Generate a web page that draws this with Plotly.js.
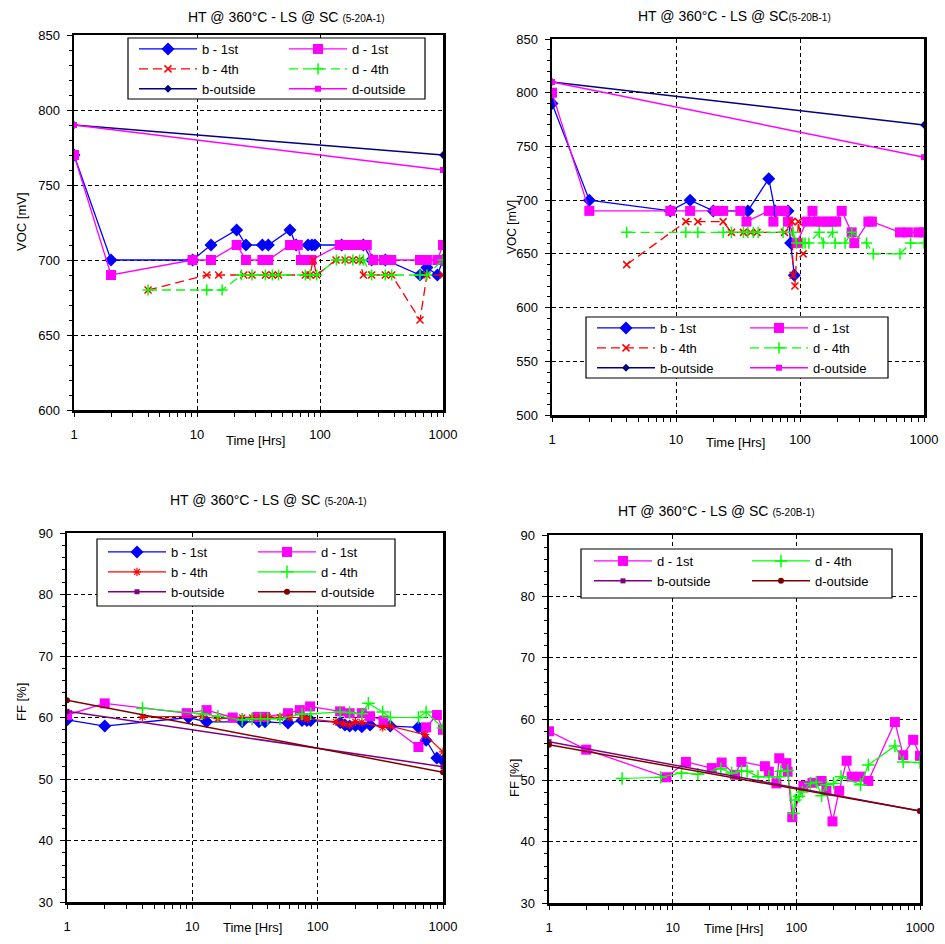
<!DOCTYPE html>
<html><head><meta charset="utf-8">
<script src="https://cdn.plot.ly/plotly-3.0.1.min.js"></script>
<style>html,body{margin:0;padding:0;background:#fff}#chart{width:945px;height:944px}</style>
</head><body><div id="chart"></div>
<script>
// ---- Sample 5-20A-1, open-circuit voltage VOC [mV] vs time [Hrs] ----
const tA_b1 = [1, 2, 9.2, 13, 21, 25, 34, 38, 57, 64, 80, 86, 91, 150, 225, 263, 340, 650, 740, 900, 1000];
const vocA_b1 = [770, 700, 700, 710, 720, 710, 710, 710, 720, 710, 710, 710, 710, 710, 710, 700, 700, 690, 695, 690, 700];
const tA_d1 = [1, 2, 9.2, 13, 21, 25, 34, 38, 57, 66, 70, 78, 85, 145, 165, 190, 215, 240, 270, 330, 380, 650, 740, 900, 1000];
const vocA_d1 = [770, 690, 700, 700, 710, 700, 700, 700, 710, 710, 700, 700, 700, 710, 710, 710, 710, 710, 700, 700, 700, 700, 700, 700, 710];
const tA_b4 = [4, 12, 15, 24, 28, 36, 41, 46, 76, 83, 88, 94, 135, 160, 185, 210, 225, 263, 340, 383, 650, 740, 1000];
const vocA_b4 = [680, 690, 690, 690, 690, 690, 690, 690, 690, 690, 700, 690, 700, 700, 700, 700, 690, 690, 690, 690, 660, 690, 690];
const tA_d4 = [4, 12, 16, 23, 28, 36, 41, 46, 76, 83, 94, 136, 160, 185, 210, 225, 263, 340, 383, 650, 740, 1000];
const vocA_d4 = [680, 680, 680, 690, 690, 690, 690, 690, 690, 690, 690, 700, 700, 700, 700, 700, 690, 690, 690, 690, 690, 700];
const tA_out = [1, 1000];
const vocA_bout = [790, 770];
const vocA_dout = [790, 760];

// ---- Sample 5-20B-1, VOC [mV] ----
const tB_b1 = [1, 2, 9, 13, 20, 38, 56, 63, 80, 84, 90];
const vocB_b1 = [790, 700, 690, 700, 690, 690, 720, 690, 690, 660, 630];
const tB_d1 = [1, 2, 9, 13, 21, 24, 33, 37, 56, 61, 69, 75, 80, 94, 113, 126, 135, 150, 165, 180, 196, 217, 261, 274, 356, 380, 640, 741, 900, 1000];
const vocB_d1 = [800, 690, 690, 690, 690, 690, 690, 680, 690, 680, 690, 690, 680, 660, 680, 690, 680, 680, 680, 680, 680, 690, 670, 660, 680, 680, 670, 670, 670, 670];
const tB_b4 = [4, 12, 15, 24, 28, 35, 40, 45, 75, 86, 88, 91, 97, 106];
const vocB_b4 = [640, 680, 680, 680, 670, 670, 670, 670, 670, 680, 630, 620, 680, 650];
const tB_d4 = [4, 12, 15, 24, 28, 35, 38, 42, 46, 73, 88, 94, 105, 110, 118, 143, 154, 183, 192, 231, 261, 345, 390, 640, 780, 1000];
const vocB_d4 = [670, 670, 670, 670, 670, 670, 670, 670, 670, 670, 670, 660, 660, 660, 660, 670, 660, 670, 660, 660, 670, 660, 650, 650, 660, 660];
const tB_out = [1, 1000];
const vocB_bout = [810, 770];
const vocB_dout = [810, 740];

// ---- Sample 5-20A-1, fill factor FF [%] ----
const tA_ff_b1 = [1, 2, 9.3, 13, 25, 34, 38, 58, 75, 82, 88, 151, 165, 180, 200, 225, 262, 380, 637, 733, 893, 1000];
const ffA_b1 = [59.6, 58.6, 60, 59.3, 59.3, 59.3, 59.3, 59.1, 59.5, 59.5, 59.5, 59.2, 58.8, 58.6, 58.7, 58.5, 58.8, 58.6, 58.4, 56.3, 53.4, 53];
const tA_ff_d1 = [1, 2, 9, 13, 21, 33, 38, 58, 72, 87, 151, 180, 225, 262, 335, 637, 733, 893, 1000];
const ffA_d1 = [60.4, 62.3, 60.7, 61.2, 60, 60.1, 60.1, 60.7, 61.2, 61.8, 61.0, 60.7, 60.7, 60.2, 59.5, 55.2, 58.4, 60.4, 58];
const tA_ff_b4 = [4, 12, 16, 25, 30, 35, 40, 50, 60, 75, 83, 140, 160, 180, 200, 225, 330, 380, 720, 1000];
const ffA_b4 = [60.1, 60.2, 59.8, 60, 60, 60, 60.1, 60, 60, 60, 59.8, 59.3, 59, 58.8, 59.3, 59.2, 58.4, 58.6, 57.2, 54.4];
const tA_ff_d4 = [4, 12, 16, 25, 30, 35, 40, 50, 75, 88, 151, 180, 225, 254, 330, 380, 637, 733, 1000];
const ffA_d4 = [61.5, 60.6, 60.2, 59.6, 59.8, 59.8, 59.8, 59.8, 60.6, 60.6, 60.9, 60.8, 60.6, 62.3, 60.9, 60, 60, 60.9, 58.3];
const tA_ff_out = [1, 1000];
const ffA_bout = [61, 52];
const ffA_dout = [62.8, 51.1];

// ---- Sample 5-20B-1, FF [%] ----
const tB_ff_d1 = [1, 2, 8.9, 12.8, 20.7, 24.9, 31.9, 36, 55.7, 60, 69, 72.8, 83, 85, 92.7, 114, 135, 160, 175, 196, 222, 255, 280, 330, 382, 627, 731, 881, 1000];
const ffB_d1 = [58, 55, 50.5, 53, 52, 52.9, 50.9, 53, 52.3, 51.4, 49.5, 53.6, 52.8, 51.4, 44, 49.1, 49.6, 49.9, 48.3, 43.3, 48.3, 53.2, 50.6, 50.6, 49.9, 59.5, 54.1, 56.6, 54];
const tB_ff_d4 = [3.9, 8, 11.8, 16, 24.5, 30, 36, 40, 49, 60, 73, 75, 85, 94.5, 98, 105, 112, 130, 145, 160, 175, 200, 230, 330, 382, 627, 731, 1000];
const ffB_d4 = [50.3, 50.5, 51.2, 51, 51.9, 51.2, 51.5, 51.5, 50.6, 50.6, 50.6, 51.5, 51.6, 44.6, 46.8, 47.4, 48.1, 49.5, 49.7, 47.5, 49.3, 49.5, 50.6, 49.3, 52.5, 55.6, 53, 52.9];
const tB_ff_out = [1, 1000];
const ffB_bout = [56.3, 45];
const ffB_dout = [55.8, 45];

// x-axis decades
const timeTicks = [1, 10, 100, 1000];
const timeTickText = ['1', '10', '100', '1000'];

// ---- page geometry (pixels -> paper fractions) ----
const W = 945, H = 944;
const fx = x => x / W;
const fy = y => 1 - y / H;

const FONT = 'Liberation Sans, Arial, sans-serif';

// series styles
const S = {
  b1:   {mode: 'lines+markers', line: {color: '#0000FF', width: 1.3}, marker: {symbol: 'diamond', size: 10, color: '#0000FF'}},
  d1:   {mode: 'lines+markers', line: {color: '#FF00FF', width: 1.3}, marker: {symbol: 'square', size: 10, color: '#FF00FF'}},
  b4d:  {mode: 'lines+markers', line: {color: '#FF0000', width: 1.3, dash: '9px,5px'}, marker: {symbol: 'x-thin', size: 7, color: '#FF0000', line: {color: '#FF0000', width: 1.5}}},
  d4d:  {mode: 'lines+markers', line: {color: '#00FF00', width: 1.3, dash: '9px,5px'}, marker: {symbol: 'cross-thin', size: 8, color: '#00FF00', line: {color: '#00FF00', width: 1.5}}},
  b4s:  {mode: 'lines+markers', line: {color: '#FF0000', width: 1.2}, marker: {symbol: 'asterisk-open', size: 7, color: '#FF0000', line: {color: '#FF0000', width: 1.2}}},
  d4s:  {mode: 'lines+markers', line: {color: '#00FF00', width: 1.2}, marker: {symbol: 'cross-thin', size: 9, color: '#00FF00', line: {color: '#00FF00', width: 1.5}}},
  boutV: {mode: 'lines+markers', line: {color: '#000080', width: 1.5}, marker: {symbol: 'diamond', size: 6, color: '#000080'}},
  doutV: {mode: 'lines+markers', line: {color: '#FF00FF', width: 1.5}, marker: {symbol: 'square', size: 6, color: '#FF00FF'}},
  boutF: {mode: 'lines+markers', line: {color: '#800080', width: 1.5}, marker: {symbol: 'square', size: 5, color: '#800080'}},
  doutF: {mode: 'lines+markers', line: {color: '#800000', width: 1.5}, marker: {symbol: 'circle', size: 6, color: '#800000'}}
};

// panel n, legend column c (0 = left, 1 = right)
function tr(x, y, name, style, n, c) {
  const sfx = n === 1 ? '' : String(n);
  const li = 2 * n - 1 + c;
  return Object.assign({type: 'scatter', x: x, y: y, name: name,
    xaxis: 'x' + sfx, yaxis: 'y' + sfx, legend: li === 1 ? 'legend' : 'legend' + li},
    JSON.parse(JSON.stringify(style)));
}

const data = [
  // panel 1
  tr(tA_b1, vocA_b1, 'b - 1st', S.b1, 1, 0),
  tr(tA_d1, vocA_d1, 'd - 1st', S.d1, 1, 1),
  tr(tA_b4, vocA_b4, 'b - 4th', S.b4d, 1, 0),
  tr(tA_d4, vocA_d4, 'd - 4th', S.d4d, 1, 1),
  tr(tA_out, vocA_bout, 'b-outside', S.boutV, 1, 0),
  tr(tA_out, vocA_dout, 'd-outside', S.doutV, 1, 1),
  // panel 2
  tr(tB_b1, vocB_b1, 'b - 1st', S.b1, 2, 0),
  tr(tB_d1, vocB_d1, 'd - 1st', S.d1, 2, 1),
  tr(tB_b4, vocB_b4, 'b - 4th', S.b4d, 2, 0),
  tr(tB_d4, vocB_d4, 'd - 4th', S.d4d, 2, 1),
  tr(tB_out, vocB_bout, 'b-outside', S.boutV, 2, 0),
  tr(tB_out, vocB_dout, 'd-outside', S.doutV, 2, 1),
  // panel 3
  tr(tA_ff_b1, ffA_b1, 'b - 1st', S.b1, 3, 0),
  tr(tA_ff_d1, ffA_d1, 'd - 1st', S.d1, 3, 1),
  tr(tA_ff_b4, ffA_b4, 'b - 4th', S.b4s, 3, 0),
  tr(tA_ff_d4, ffA_d4, 'd - 4th', S.d4s, 3, 1),
  tr(tA_ff_out, ffA_bout, 'b-outside', S.boutF, 3, 0),
  tr(tA_ff_out, ffA_dout, 'd-outside', S.doutF, 3, 1),
  // panel 4
  tr(tB_ff_d1, ffB_d1, 'd - 1st', S.d1, 4, 0),
  tr(tB_ff_d4, ffB_d4, 'd - 4th', S.d4s, 4, 1),
  tr(tB_ff_out, ffB_bout, 'b-outside', S.boutF, 4, 0),
  tr(tB_ff_out, ffB_dout, 'd-outside', S.doutF, 4, 1)
];

const tickFont = {family: FONT, size: 13, color: '#000'};
function xAxis(x0, x1, anchor) {
  return {type: 'log', range: [0, 3], domain: [fx(x0), fx(x1)], anchor: anchor,
    tickmode: 'array', tickvals: timeTicks, ticktext: timeTickText,
    showline: true, linecolor: '#000', linewidth: 2.5, mirror: true,
    ticks: 'outside', ticklen: 4, tickwidth: 1, tickcolor: '#000', ticklabelstandoff: 7,
    minor: {ticks: 'outside', ticklen: 4, tickwidth: 1, tickcolor: '#000', dtick: 'D1', showgrid: false},
    showgrid: true, gridcolor: '#000', gridwidth: 1, griddash: '4px,3px', zeroline: false,
    tickfont: tickFont, fixedrange: true};
}
function yAxis(y0, y1, range, dtick, mdtick, anchor) {
  return {range: range, domain: [fy(y1), fy(y0)], anchor: anchor, dtick: dtick, tick0: 0,
    showline: true, linecolor: '#000', linewidth: 2.5, mirror: true,
    ticks: 'outside', ticklen: 5, tickwidth: 1, tickcolor: '#000', ticklabelstandoff: 4,
    minor: {ticks: 'outside', ticklen: 3, tickwidth: 1, tickcolor: '#000', dtick: mdtick, showgrid: false},
    showgrid: true, gridcolor: '#000', gridwidth: 1, griddash: '4px,3px', zeroline: false,
    tickfont: tickFont, fixedrange: true};
}
// one legend column; the first row centre sits 15 px below its top edge
function legendCol(lineX, rowY) {
  return {x: fx(lineX - 5), y: fy(rowY - 15), xanchor: 'left', yanchor: 'top', orientation: 'v',
    itemwidth: 58, tracegroupgap: 0, bgcolor: 'rgba(0,0,0,0)', borderwidth: 0,
    font: {family: FONT, size: 13, color: '#000'}, itemclick: false, itemdoubleclick: false};
}
// framed white box behind each two-column legend
function legendBox(x0, y0, x1, y1) {
  return {type: 'rect', xref: 'paper', yref: 'paper', layer: 'above',
    x0: fx(x0), x1: fx(x1), y0: fy(y1), y1: fy(y0),
    fillcolor: '#fff', line: {color: '#000', width: 1.2}};
}

function note(text, x, y, size, angle) {
  return {text: text, x: fx(x), y: fy(y), xref: 'paper', yref: 'paper', showarrow: false,
    xanchor: 'center', yanchor: 'middle', textangle: angle || 0,
    font: {family: FONT, size: size, color: '#000'}};
}
const small = s => '<span style="font-size:10px">' + s + '</span>';

const layout = {
  width: W, height: H, margin: {l: 0, r: 0, t: 0, b: 0},
  paper_bgcolor: '#fff', plot_bgcolor: '#fff', showlegend: true,
  xaxis: xAxis(74, 443, 'y'),
  yaxis: yAxis(35, 410, [600, 850], 50, 10, 'x'),
  xaxis2: xAxis(552, 924, 'y2'),
  yaxis2: yAxis(39, 415, [500, 850], 50, 10, 'x2'),
  xaxis3: xAxis(67, 443, 'y3'),
  yaxis3: yAxis(533, 902, [30, 90], 10, 2, 'x3'),
  xaxis4: xAxis(549, 920, 'y4'),
  yaxis4: yAxis(535, 903, [30, 90], 10, 2, 'x4'),
  legend:  legendCol(139, 49),
  legend2: legendCol(289, 49),
  legend3: legendCol(597, 328),
  legend4: legendCol(750, 328),
  legend5: legendCol(108, 552),
  legend6: legendCol(258, 552),
  legend7: legendCol(594, 561),
  legend8: legendCol(752, 561),
  shapes: [
    legendBox(128, 38, 425, 99),
    legendBox(586, 317, 888, 378),
    legendBox(97, 539, 395, 606),
    legendBox(581, 549, 892, 598)
  ],
  annotations: [
    note('HT @ 360°C - LS @ SC ' + small('(5-20A-1)'), 286, 17, 14),
    note('HT @ 360°C - LS @ SC' + small('(5-20B-1)'), 734, 16, 14),
    note('HT @ 360°C - LS @ SC ' + small('(5-20A-1)'), 268, 500, 14),
    note('HT @ 360°C - LS @ SC ' + small('(5-20B-1)'), 716, 511, 14),
    note('VOC [mV]', 21, 222, 13, -90),
    note('VOC [mV]', 512, 227, 12, -90),
    note('FF [%]', 21, 702, 13, -90),
    note('FF [%]', 514, 778, 13, -90),
    note('Time [Hrs]', 255, 440, 13),
    note('Time [Hrs]', 735, 442, 13),
    note('Time [Hrs]', 253, 927, 13),
    note('Time [Hrs]', 733, 928, 13)
  ]
};

Plotly.newPlot('chart', data, layout, {staticPlot: true, displayModeBar: false});
</script>
</body></html>
